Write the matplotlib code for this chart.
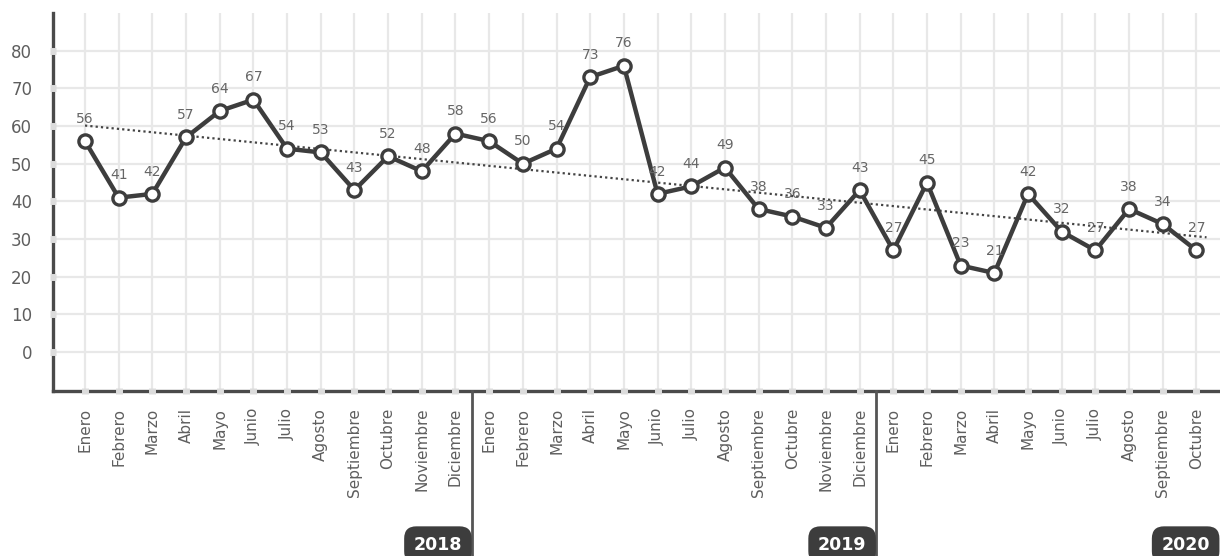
import numpy as np
import matplotlib.pyplot as plt
import matplotlib.transforms as mtransforms

MESES = ['Enero', 'Febrero', 'Marzo', 'Abril', 'Mayo', 'Junio', 'Julio',
         'Agosto', 'Septiembre', 'Octubre', 'Noviembre', 'Diciembre']

valores_2018 = [56, 41, 42, 57, 64, 67, 54, 53, 43, 52, 48, 58]
valores_2019 = [56, 50, 54, 73, 76, 42, 44, 49, 38, 36, 33, 43]
valores_2020 = [27, 45, 23, 21, 42, 32, 27, 38, 34, 27]
anios = ['2018', '2019', '2020']
yticks = [0, 10, 20, 30, 40, 50, 60, 70, 80]

OSCURO = '#3d3d3d'
GRIS = '#5e5e5e'
REJILLA = '#e8e8e8'

etiquetas = MESES + MESES + MESES[:len(valores_2020)]
valores = valores_2018 + valores_2019 + valores_2020
x = np.arange(len(valores))

fig = plt.figure(figsize=(12.2, 5.56), dpi=100)
ax = fig.add_axes([53 / 1220, 1 - 391 / 556, 1 - 53 / 1220, (391 - 13) / 556])
xlo, xhi = -0.95, 33.7
ylo, yhi = -10.3, 90
ax.set_xlim(xlo, xhi)
ax.set_ylim(ylo, yhi)

# rejilla
ax.set_xticks(x)
ax.set_xticklabels(etiquetas, rotation=90, fontsize=11, color=GRIS, va='top')
ax.set_yticks(yticks)
ax.set_yticklabels([str(t) for t in yticks], fontsize=12, color=GRIS)
ax.tick_params(axis='both', length=0)
ax.tick_params(axis='x', pad=12)
ax.tick_params(axis='y', pad=15)
ax.grid(True, color=REJILLA, linewidth=1.6)
ax.set_axisbelow(True)

for lado in ['top', 'right']:
    ax.spines[lado].set_visible(False)
for lado in ['left', 'bottom']:
    ax.spines[lado].set_color('#4a4a4a')
    ax.spines[lado].set_linewidth(2.4)

# huecos claros en los ejes donde cruza la rejilla
ax.plot(x, np.full(len(x), ylo), ls='none', marker='|', ms=5, mew=5,
        color='#dcdcdc', clip_on=False, zorder=3)
ax.plot(np.full(len(yticks), xlo), yticks, ls='none', marker='_', ms=5, mew=5,
        color='#dcdcdc', clip_on=False, zorder=3)

# tendencia
coef = np.polyfit(x, valores, 1)
xt = np.array([0, len(valores) - 0.7])
ax.plot(xt, np.polyval(coef, xt), color='#444444', lw=1.6,
        ls=(0, (1, 1.4)), zorder=4)

# serie
ax.plot(x, valores, color=OSCURO, lw=3.2, marker='o', ms=9.5,
        mfc='white', mec=OSCURO, mew=2.4, zorder=5)

for xi, v in zip(x, valores):
    ax.annotate(str(v), (xi, v), xytext=(0, 11), textcoords='offset points',
                ha='center', va='bottom', fontsize=10, color='#666666',
                zorder=6)

# separadores de año y etiquetas
trans = mtransforms.blended_transform_factory(ax.transData, fig.transFigure)
n1 = len(valores_2018)
n2 = n1 + len(valores_2019)
for sep in [n1 - 0.5, n2 - 0.5]:
    ax.plot([sep, sep], [1 - 391 / 556, 0], color='#555555', lw=2,
            transform=trans, clip_on=False, zorder=3)

pos_anio = [n1 - 0.5 - 0.3, n2 - 0.5 - 0.3, len(valores) - 0.6]
for anio, px in zip(anios, pos_anio):
    ax.text(px, 0.02, anio, transform=trans, ha='right', va='center',
            fontsize=12.5, fontweight='bold', color='white',
            bbox=dict(boxstyle='round,pad=0.55,rounding_size=0.7',
                      fc=OSCURO, ec='none'))

fig.savefig('out.png', dpi=100)
